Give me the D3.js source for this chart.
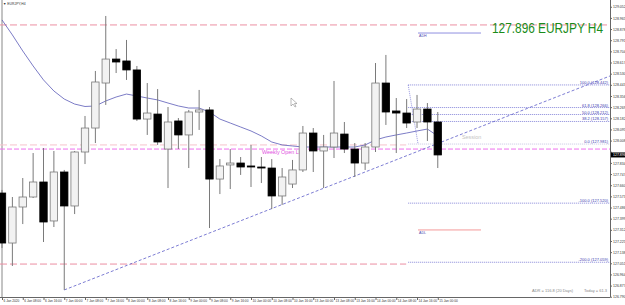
<!DOCTYPE html>
<html lang="en">
<head>
  <meta charset="UTF-8">
  <title>EURJPY H4</title>
  <style>
    body { margin: 0; background: #fff; }
    svg { display: block; font-family: "Liberation Sans", Arial, sans-serif; }
  </style>
</head>
<body>
<script src="https://cdn.jsdelivr.net/npm/d3@7/dist/d3.min.js"></script>
<script>
const width = 625
const height = 305

// H4 candles, 6 Jan 2020 00:00 -> 15 Jan 2020 08:00
const open  = [127.599,127.209,127.490,127.568,127.685,127.381,127.763,127.498,127.919,128.106,128.457,128.644,128.629,128.559,128.176,128.215,127.942,128.161,128.052,128.231,128.247,127.708,127.818,127.833,127.810,127.802,127.794,127.576,127.669,127.779,128.067,127.927,127.958,128.059,127.942,127.833,127.958,128.457,128.239,128.223,128.153,128.254,128.153]
const high  = [127.623,127.568,127.716,127.911,127.950,127.927,127.779,127.927,128.200,128.551,128.980,128.722,128.793,128.590,128.457,128.410,128.270,128.184,128.247,128.403,128.270,127.864,127.942,127.880,127.974,127.880,127.864,127.794,127.857,128.122,128.106,128.052,128.473,128.153,127.989,127.989,128.613,128.676,128.340,128.332,128.364,128.301,128.231]
const low   = [127.170,127.030,127.357,127.560,127.217,127.334,126.843,127.435,127.825,127.989,128.286,128.535,128.481,128.161,128.052,127.974,127.638,127.942,127.794,128.091,127.326,127.591,127.630,127.740,127.646,127.677,127.474,127.506,127.638,127.763,127.763,127.638,127.872,127.911,127.724,127.779,127.919,128.130,127.911,128.106,128.106,128.005,127.794]
const close = [127.209,127.490,127.568,127.685,127.373,127.763,127.498,127.919,128.106,128.465,128.644,128.621,128.559,128.176,128.223,127.997,128.153,128.052,128.231,128.247,127.708,127.810,127.833,127.802,127.802,127.794,127.576,127.724,127.779,128.067,127.927,127.958,128.067,127.942,127.833,127.958,128.457,128.231,128.223,128.145,128.254,128.153,127.896]

// moving average
const maValues = [128.949,128.832,128.707,128.590,128.481,128.395,128.332,128.293,128.274,128.278,128.317,128.348,128.371,128.356,128.340,128.325,128.301,128.278,128.262,128.262,128.231,128.176,128.145,128.114,128.083,128.044,127.997,127.974,127.966,127.958,127.958,127.958,127.958,127.958,127.958,127.974,128.013,128.036,128.052,128.067,128.083,128.098,128.044]

const timeLabels = ["6 Jan 2020","6 Jan 08:00","6 Jan 16:00","7 Jan 00:00","7 Jan 08:00","7 Jan 16:00","8 Jan 00:00","8 Jan 08:00","8 Jan 16:00","9 Jan 00:00","9 Jan 08:00","9 Jan 16:00","10 Jan 00:00","10 Jan 08:00","10 Jan 16:00","13 Jan 00:00","13 Jan 08:00","13 Jan 16:00","14 Jan 00:00","14 Jan 08:00","14 Jan 16:00","15 Jan 00:00"]
const timeTickIndex = [0,2,4,6,8,10,12,14,16,18,20,22,24,26,28,30,32,34,36,38,40,42]

const priceTicks = [126.790,126.877,126.964,127.051,127.138,127.225,127.312,127.399,127.486,127.573,127.660,127.747,127.834,127.921,128.008,128.095,128.182,128.269,128.356,128.443,128.530,128.617,128.704,128.791,128.878,128.965,129.052]

// drawn objects
const trendIndex = [6, 58.6]
const trendPrice = [126.843, 128.512]
const fibIndex = [39.15, 40.1]
const fibPrice = [128.442, 127.981]
const fibLevels = [100, 61.8, 50, 38.2, 0, -100, -200]
const fibNames = ["100.0","61.8","50.0","38.2","0.0","-100.0","-200.0"]
const dashedLevels = [128.910, 127.974, 127.045]
const weeklyOpen = 127.942
const adh = 128.847
const adl = 127.311
const lastPrice = 127.896

const plotLeft = 2, plotRight = 610, plotTop = 0, plotBottom = 297

const svg = d3.select("body").append("svg")
  .attr("width", width)
  .attr("height", height)

const x = d3.scaleLinear().domain([0, 58.6]).range([plotLeft, plotRight])
const y = d3.scaleLinear().domain([126.788, 129.089]).range([plotBottom, 2])

// frame
svg.append("line").attr("x1", plotLeft).attr("x2", plotLeft).attr("y1", plotTop).attr("y2", plotBottom)
  .attr("stroke", "#888").attr("stroke-width", 1)

// top-left caption
svg.append("text").attr("x", 3).attr("y", 5)
  .attr("font-size", 3.4).attr("fill", "#333").text("▼ EURJPY,H4")

// horizontal dashed lines
svg.append("line").attr("x1", 0).attr("x2", plotRight)
  .attr("y1", y(dashedLevels[0])).attr("y2", y(dashedLevels[0]))
  .attr("stroke", "#ec8fa3").attr("stroke-dasharray", "7,3")
svg.append("line").attr("x1", 0).attr("x2", x(fibIndex[0]) - 2)
  .attr("y1", y(dashedLevels[1])).attr("y2", y(dashedLevels[1]))
  .attr("stroke", "#f6c3cc").attr("stroke-dasharray", "7,3")
svg.append("line").attr("x1", 0).attr("x2", x(fibIndex[0]) - 2)
  .attr("y1", y(dashedLevels[2])).attr("y2", y(dashedLevels[2]))
  .attr("stroke", "#ec8fa3").attr("stroke-dasharray", "7,3")
svg.append("line").attr("x1", 0).attr("x2", plotRight)
  .attr("y1", y(weeklyOpen)).attr("y2", y(weeklyOpen))
  .attr("stroke", "#ee70ee").attr("stroke-dasharray", "5,2")

svg.append("text").attr("x", 262).attr("y", y(weeklyOpen) + 5)
  .attr("font-size", 5.4).attr("fill", "#e050e0").text("Weekly Open Line")

// fibonacci
const fibY = l => y(fibPrice[1] + (fibPrice[0] - fibPrice[1]) * l / 100)
svg.append("line")
  .attr("x1", x(fibIndex[0])).attr("y1", y(fibPrice[0]))
  .attr("x2", x(fibIndex[1])).attr("y2", y(fibPrice[1]))
  .attr("stroke", "#7b7bd6").attr("stroke-width", 0.8).attr("stroke-dasharray", "1,1")

svg.append("g").selectAll("line").data(fibLevels).enter().append("line")
  .attr("x1", x(fibIndex[0])).attr("x2", plotRight)
  .attr("y1", d => fibY(d)).attr("y2", d => fibY(d))
  .attr("stroke", d => d === 0 ? "#b9b9dc" : "#6a6ad0")
  .attr("stroke-width", 0.8).attr("stroke-dasharray", "1,1")

svg.append("g").selectAll("text").data(fibLevels).enter().append("text")
  .attr("x", plotRight - 2).attr("y", d => fibY(d) - 1)
  .attr("text-anchor", "end").attr("font-size", 4).attr("fill", "#3a3ab0")
  .text((d, i) => fibNames[i] + " (" + (fibPrice[1] + (fibPrice[0] - fibPrice[1]) * d / 100).toFixed(3) + ")")

svg.append("text").attr("x", 462).attr("y", 139)
  .attr("font-size", 5.4).attr("fill", "#c4c4c4").text("Session")

// ADH / ADL
svg.append("line").attr("x1", 418).attr("x2", 481).attr("y1", y(adh)).attr("y2", y(adh))
  .attr("stroke", "#8f8fe0").attr("stroke-width", 1)
svg.append("text").attr("x", 419).attr("y", y(adh) + 4)
  .attr("font-size", 3.6).attr("fill", "#4a4ab0").text("ADH")
svg.append("line").attr("x1", 418).attr("x2", 481).attr("y1", y(adl)).attr("y2", y(adl))
  .attr("stroke", "#f49a9a").attr("stroke-width", 1)
svg.append("text").attr("x", 419).attr("y", y(adl) + 4)
  .attr("font-size", 3.6).attr("fill", "#4a4ab0").text("ADL")

// trend line
svg.append("line")
  .attr("x1", x(trendIndex[0])).attr("y1", y(trendPrice[0]))
  .attr("x2", x(trendIndex[1])).attr("y2", y(trendPrice[1]))
  .attr("stroke", "#5c5cc8").attr("stroke-width", 0.8).attr("stroke-dasharray", "3,2")

// moving average
svg.append("path").datum(maValues)
  .attr("fill", "none").attr("stroke", "#5a5ab8").attr("stroke-width", 0.8)
  .attr("d", d3.line().x((d, i) => x(i)).y(d => y(d)))

// candles
const candles = d3.range(open.length)
const g = svg.append("g")
g.selectAll("line").data(candles).enter().append("line")
  .attr("x1", i => x(i)).attr("x2", i => x(i))
  .attr("y1", i => y(high[i])).attr("y2", i => y(low[i]))
  .attr("stroke", "#7a7a7a").attr("stroke-width", 1)
g.selectAll("rect").data(candles).enter().append("rect")
  .attr("x", i => x(i) - 3.7)
  .attr("width", 7.4)
  .attr("y", i => y(Math.max(open[i], close[i])))
  .attr("height", i => Math.max(1, Math.abs(y(open[i]) - y(close[i]))))
  .attr("fill", i => close[i] >= open[i] ? "#f2f2f2" : "#000")
  .attr("stroke", i => close[i] >= open[i] ? "#7a7a7a" : "#000")
  .attr("stroke-width", 0.8)

// mouse pointer
svg.append("path").attr("d", "M291,98 L291,106 L293,104 L295,107 L296,106.5 L294.5,103.5 L297,103.5 Z")
  .attr("fill", "#fff").attr("stroke", "#777").attr("stroke-width", 0.5)

// title (squeezed horizontally like the screenshot)
svg.append("g").attr("transform", "translate(603,33) scale(0.79,1)")
  .append("text").attr("text-anchor", "end").attr("font-size", 15).attr("fill", "#1a8c1a")
  .text(lastPrice.toFixed(3) + " EURJPY H4")

// axes
const yAxis = svg.append("g").attr("transform", "translate(" + plotRight + ",0)")
  .call(d3.axisRight(y).tickValues(priceTicks).tickSize(2)
    .tickFormat(d => Math.abs(y(d) - y(lastPrice)) < 5 ? "" : d3.format(".3f")(d)))
yAxis.select(".domain").attr("stroke", "#666").attr("d", "M0.5," + plotTop + "V" + plotBottom)
yAxis.selectAll("text").attr("font-size", 3.5).attr("fill", "#333").attr("x", 3)
  .attr("font-family", "Liberation Sans, Arial, sans-serif")
yAxis.selectAll("line").attr("stroke", "#666")

const xAxis = svg.append("g").attr("transform", "translate(0," + plotBottom + ")")
  .call(d3.axisBottom(x).tickValues(timeTickIndex).tickSize(3).tickFormat((d, i) => timeLabels[i]))
xAxis.select(".domain").attr("stroke", "#666").attr("d", "M0,0.5H" + plotRight)
xAxis.selectAll("text").attr("font-size", 3.2).attr("fill", "#333")
  .attr("text-anchor", "start").attr("x", 1).attr("y", 3).attr("dy", "0.71em")
  .attr("font-family", "Liberation Sans, Arial, sans-serif")
xAxis.selectAll("line").attr("stroke", "#666")

// current price tag
svg.append("rect").attr("x", plotRight + 1).attr("y", y(lastPrice) - 2.5).attr("width", 14).attr("height", 5)
  .attr("fill", "#000")
svg.append("text").attr("x", plotRight + 3).attr("y", y(lastPrice) + 1.3)
  .attr("font-size", 3.5).attr("fill", "#fff").text(lastPrice.toFixed(3))

// footer
svg.append("text").attr("x", 532).attr("y", 292)
  .attr("font-size", 4).attr("fill", "#888").text("ADR = 116.8 (20 Days)")
svg.append("text").attr("x", 607).attr("y", 292).attr("text-anchor", "end")
  .attr("font-size", 4).attr("fill", "#888").text("Today = 61.3")
</script>
</body>
</html>
